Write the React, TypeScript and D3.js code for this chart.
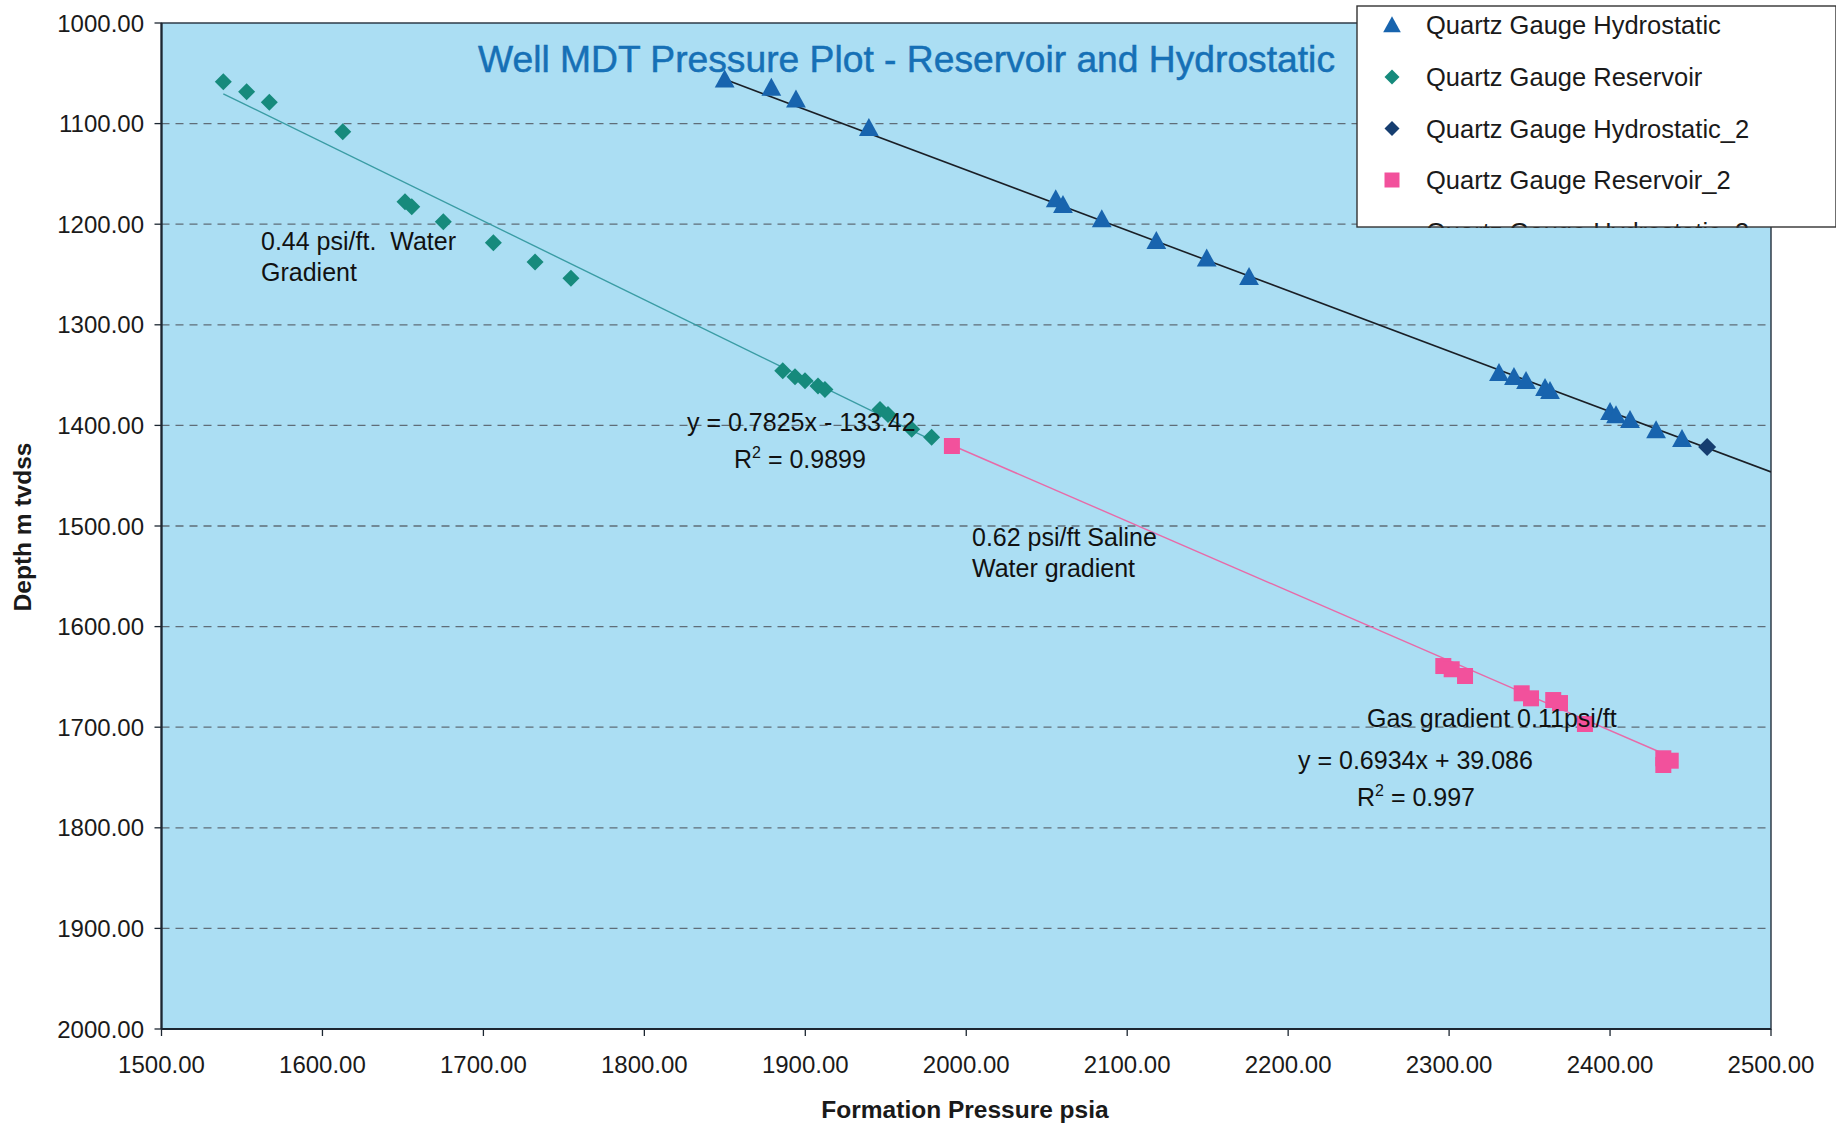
import React from 'react';
import * as d3 from 'd3';

// ---------- data ----------
const X_TICKS = [1500, 1600, 1700, 1800, 1900, 2000, 2100, 2200, 2300, 2400, 2500];
const Y_TICKS = [1000, 1100, 1200, 1300, 1400, 1500, 1600, 1700, 1800, 1900, 2000];

// Quartz Gauge Hydrostatic (triangles)
const hydroPressure = [1849.9, 1878.9, 1894.2, 1939.5, 2055.6, 2060.1, 2084.2, 2118.1, 2149.4, 2175.7,
  2331.0, 2340.3, 2347.8, 2359.6, 2362.7, 2400.0, 2403.7, 2412.4, 2428.6, 2444.7];
const hydroDepth = [1056.0, 1064.3, 1075.9, 1104.3, 1175.1, 1180.8, 1195.1, 1216.5, 1234.1, 1252.4,
  1347.9, 1351.9, 1355.8, 1362.8, 1365.8, 1386.7, 1389.7, 1394.6, 1404.6, 1413.5];

// Quartz Gauge Reservoir (teal diamonds)
const resPressure = [1538.4, 1552.9, 1567.0, 1612.6, 1651.3, 1655.5, 1675.1, 1706.2, 1732.1, 1754.4,
  1886.0, 1893.6, 1899.8, 1907.9, 1912.2, 1946.4, 1951.4, 1966.1, 1978.5];
const resDepth = [1058.3, 1068.3, 1078.8, 1108.1, 1177.6, 1182.6, 1197.5, 1218.4, 1237.6, 1253.8,
  1345.6, 1351.6, 1355.6, 1360.8, 1364.3, 1384.2, 1389.2, 1403.9, 1411.8];

// Quartz Gauge Hydrostatic_2 (navy diamond)
const hydro2Pressure = [2460.3];
const hydro2Depth = [1421.5];

// Quartz Gauge Reservoir_2 (pink squares)
const res2Pressure = [1991.1, 2296.4, 2301.6, 2309.9, 2345.1, 2350.9, 2364.7, 2368.9, 2384.4, 2433.1, 2437.7, 2433.1];
const res2Depth = [1420.5, 1639.2, 1642.4, 1649.1, 1666.3, 1671.3, 1673.0, 1676.0, 1696.8, 1730.9, 1733.3, 1737.6];

// trendlines: depth = slope * pressure + intercept
const resTrend = [0.7825, -133.42];
const res2Trend = [0.6934, 39.086];
const hydroTrend = [0.6004, -54.7];

const LEGEND_LABELS = [
  'Quartz Gauge Hydrostatic',
  'Quartz Gauge Reservoir',
  'Quartz Gauge Hydrostatic_2',
  'Quartz Gauge Reservoir_2',
  'Quartz Gauge Hydrostatic_3',
];

const TITLE = 'Well MDT Pressure Plot - Reservoir and Hydrostatic';

// ---------- layout ----------
const W = 1836;
const H = 1134;
const PL = 161.5, PR = 1771, PT = 23, PB = 1029;
const FONT = '"Liberation Sans", Arial, Helvetica, sans-serif';

const C_BG = '#abdef3';
const C_TRI = '#1864ae';
const C_TEAL = '#168a7c';
const C_NAVY = '#163e70';
const C_PINK = '#f2519c';

const x = d3.scaleLinear().domain([1500, 2500]).range([PL, PR]);
const y = d3.scaleLinear().domain([1000, 2000]).range([PT, PB]);

const tri = (s: number) => `M0,${-s * 0.55}L${s * 0.55},${s * 0.45}L${-s * 0.55},${s * 0.45}Z`;
const dia = (s: number) => `M0,${-s / 2}L${s / 2},0L0,${s / 2}L${-s / 2},0Z`;
const sq = (s: number) => `M${-s / 2},${-s / 2}h${s}v${s}h${-s}Z`;

const trendPath = (coef: number[], p0: number, p1: number) => {
  const line = d3.line<number>().x((p) => x(p)).y((p) => y(coef[0] * p + coef[1]));
  return line([p0, p1]) || '';
};

export default function App() {
  const fmt = d3.format('.2f');
  const legendRows = [25, 77, 128.5, 180, 232];
  const legendMarkers = [
    <path key="m0" d={tri(16)} fill={C_TRI} />,
    <path key="m1" d={dia(15)} fill={C_TEAL} />,
    <path key="m2" d={dia(15)} fill={C_NAVY} />,
    <path key="m3" d={sq(15)} fill={C_PINK} />,
    <path key="m4" d={dia(5)} fill="#e8d840" />,
  ];

  return (
    <svg width={W} height={H} style={{ position: 'absolute', left: 0, top: 0, display: 'block', background: '#fff' }}
      fontFamily={FONT}>
      <defs>
        <clipPath id="plotClip">
          <rect x={PL} y={PT} width={PR - PL} height={PB - PT} />
        </clipPath>
        <clipPath id="legendClip">
          <rect x={1357} y={6} width={479} height={222} />
        </clipPath>
      </defs>

      {/* plot area */}
      <rect x={PL} y={PT} width={PR - PL} height={PB - PT} fill={C_BG} />

      {/* gridlines */}
      {Y_TICKS.slice(1, -1).map((t) => (
        <line key={'g' + t} x1={PL} x2={PR} y1={y(t)} y2={y(t)} stroke="#5f6d78" strokeWidth={1.3} strokeDasharray="8,6" />
      ))}

      {/* plot border */}
      <rect x={PL} y={PT} width={PR - PL} height={PB - PT} fill="none" stroke="#24303c" strokeWidth={1.4} />
      <line x1={PL} x2={PL} y1={PT} y2={PB} stroke="#1c2631" strokeWidth={2.2} />
      <line x1={PL} x2={PR} y1={PB} y2={PB} stroke="#1c2631" strokeWidth={2.2} />

      {/* ticks */}
      {Y_TICKS.map((t) => (
        <g key={'yt' + t}>
          <line x1={PL - 7} x2={PL} y1={y(t)} y2={y(t)} stroke="#1c2631" strokeWidth={1.3} />
          <text x={144} y={y(t) + 8.5} textAnchor="end" fontSize={24} fill="#1a1a1a">{fmt(t)}</text>
        </g>
      ))}
      {X_TICKS.map((t) => (
        <g key={'xt' + t}>
          <line x1={x(t)} x2={x(t)} y1={PB} y2={PB + 7} stroke="#1c2631" strokeWidth={1.3} />
          <text x={x(t)} y={1073} textAnchor="middle" fontSize={24} fill="#1a1a1a">{fmt(t)}</text>
        </g>
      ))}

      {/* axis titles */}
      <text x={965} y={1118} textAnchor="middle" fontSize={24.5} fontWeight="bold" fill="#1a1a1a">Formation Pressure psia</text>
      <text transform="translate(31,527) rotate(-90)" textAnchor="middle" fontSize={24.5} fontWeight="bold" fill="#1a1a1a">Depth m tvdss</text>

      {/* trendlines */}
      <g clipPath="url(#plotClip)">
        <path d={trendPath(resTrend, d3.min(resPressure)!, d3.max(resPressure)!)} stroke="#3a9ca4" strokeWidth={1.4} fill="none" />
        <path d={trendPath(res2Trend, d3.min(res2Pressure)!, d3.max(res2Pressure)!)} stroke="#e86aa8" strokeWidth={1.4} fill="none" />
        <path d={trendPath(hydroTrend, d3.min(hydroPressure)!, 2500)} stroke="#1a1f26" strokeWidth={1.6} fill="none" />
      </g>

      {/* markers */}
      {resPressure.map((p, i) => (
        <path key={'r' + i} d={dia(17)} fill={C_TEAL} transform={`translate(${x(p)},${y(resDepth[i])})`} />
      ))}
      {hydroPressure.map((p, i) => (
        <path key={'h' + i} d={tri(18)} fill={C_TRI} transform={`translate(${x(p)},${y(hydroDepth[i])})`} />
      ))}
      {hydro2Pressure.map((p, i) => (
        <path key={'h2' + i} d={dia(18)} fill={C_NAVY} transform={`translate(${x(p)},${y(hydro2Depth[i])})`} />
      ))}
      {res2Pressure.map((p, i) => (
        <path key={'r2' + i} d={sq(16)} fill={C_PINK} transform={`translate(${x(p)},${y(res2Depth[i])})`} />
      ))}

      {/* title */}
      <text x={478} y={72} fontSize={37} fill="#1670b6" stroke="#1670b6" strokeWidth={0.5} textLength={857} lengthAdjust="spacingAndGlyphs">{TITLE}</text>

      {/* annotations */}
      <g fontSize={25} fill="#111">
        <text x={261} y={250} style={{ whiteSpace: 'pre' }}>{'0.44 psi/ft.  Water'}</text>
        <text x={261} y={281}>Gradient</text>
        <text x={687} y={431}>y = 0.7825x - 133.42</text>
        <text x={734} y={468}>R<tspan fontSize={16} dy={-10}>2</tspan><tspan dy={10}> = 0.9899</tspan></text>
        <text x={972} y={546}>0.62 psi/ft Saline</text>
        <text x={972} y={577}>Water gradient</text>
        <text x={1367} y={727}>Gas gradient 0.11psi/ft</text>
        <text x={1298} y={769}>y = 0.6934x + 39.086</text>
        <text x={1357} y={806}>R<tspan fontSize={16} dy={-10}>2</tspan><tspan dy={10}> = 0.997</tspan></text>
      </g>

      {/* legend */}
      <rect x={1357} y={6} width={479} height={221} fill="#fff" />
      <g clipPath="url(#legendClip)">
        {LEGEND_LABELS.map((label, i) => (
          <g key={'lg' + i}>
            <g transform={`translate(1392,${legendRows[i]})`}>{legendMarkers[i]}</g>
            <text x={1426} y={legendRows[i] + 9} fontSize={25.5} fill="#1a1a1a">{label}</text>
          </g>
        ))}
      </g>
      <rect x={1357} y={6} width={479} height={221} fill="none" stroke="#333" strokeWidth={1.4} />
    </svg>
  );
}
